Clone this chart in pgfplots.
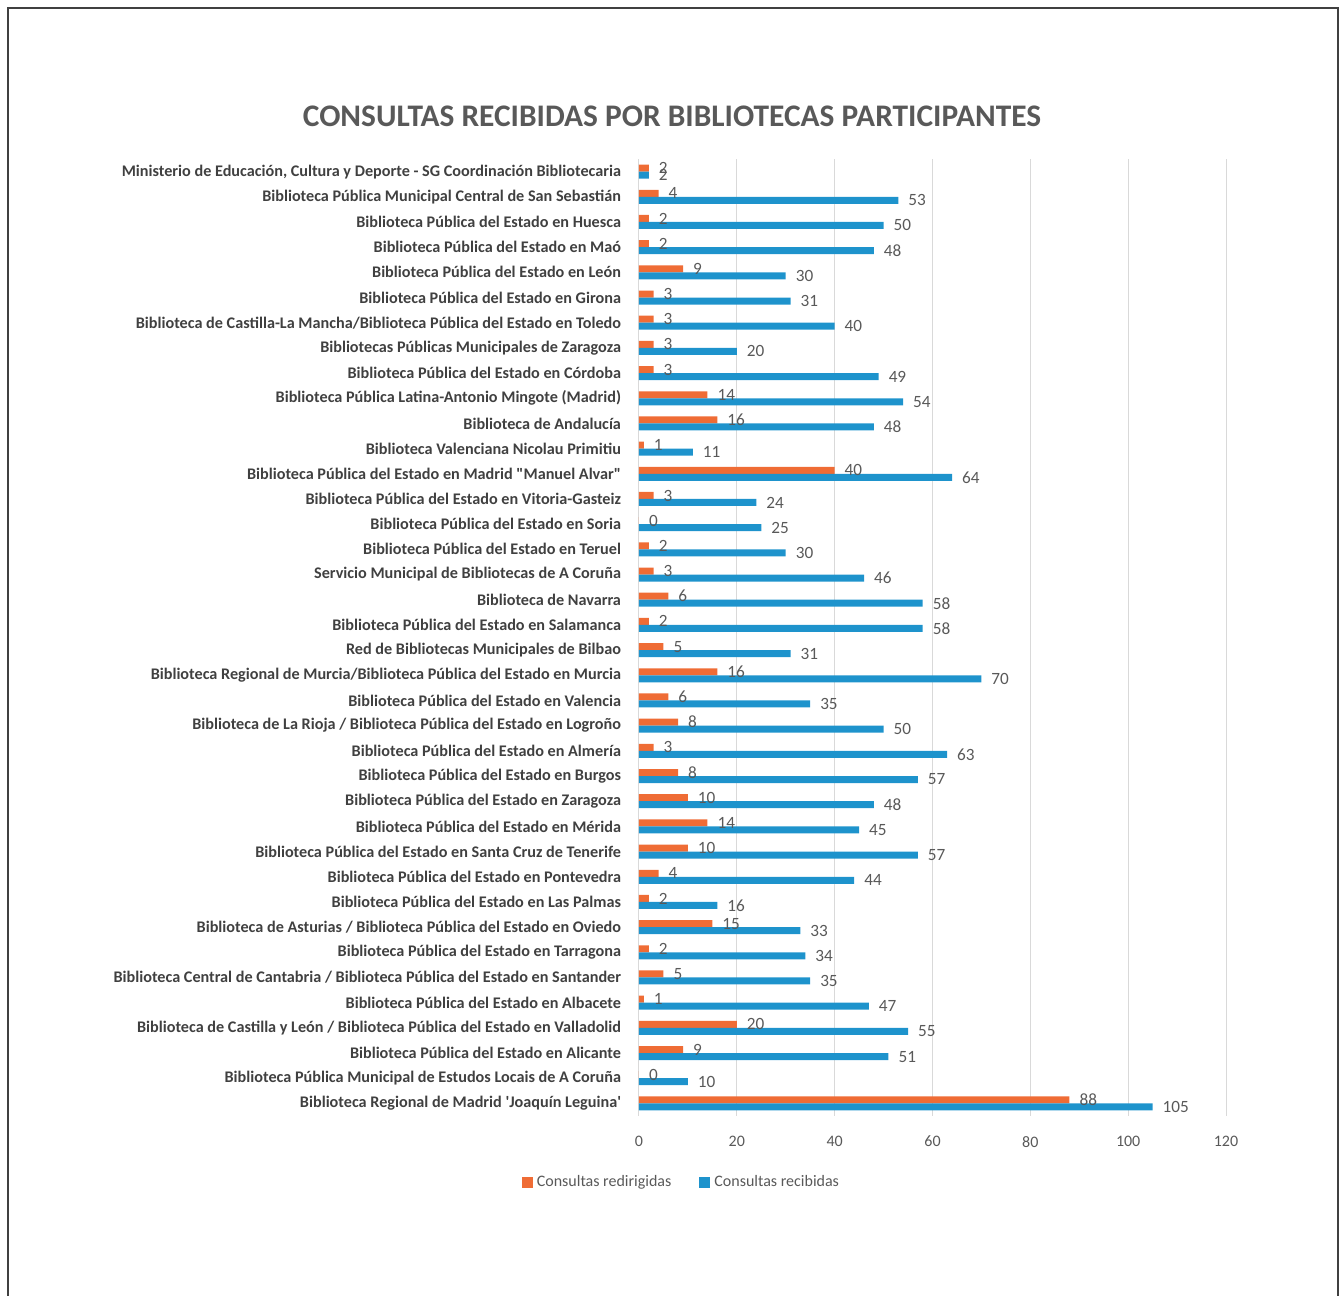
\documentclass[border=0pt]{standalone}
\usepackage{pgfplots}
\pgfplotsset{compat=1.18}
\usepackage{pgfplotstable}
\usepackage{fontspec}
\setmainfont{Carlito}

\definecolor{redir}{HTML}{EF6C35}
\definecolor{recib}{HTML}{1E93CC}
\definecolor{txt}{HTML}{595959}
\definecolor{cat}{HTML}{404040}
\definecolor{gridc}{HTML}{D9D9D9}

% idx: 0 = top row of the chart
\pgfplotstableread{
idx red blue
0  2   2
1  4   53
2  2   50
3  2   48
4  9   30
5  3   31
6  3   40
7  3   20
8  3   49
9  14  54
10 16  48
11 1   11
12 40  64
13 3   24
14 0   25
15 2   30
16 3   46
17 6   58
18 2   58
19 5   31
20 16  70
21 6   35
22 8   50
23 3   63
24 8   57
25 10  48
26 14  45
27 10  57
28 4   44
29 2   16
30 15  33
31 2   34
32 5   35
33 1   47
34 20  55
35 9   51
36 0   10
37 88  105
}\datos

\begin{document}
\begin{tikzpicture}
\path[use as bounding box] (0pt,0pt) rectangle (670pt,648pt);
\draw[black!75, line width=0.9pt] (4pt,0pt) -- (4pt,644pt) -- (669pt,644pt) -- (669pt,0pt);
\node[txt, font=\bfseries\fontsize{15.7}{18}\selectfont] at (336pt,590pt)
  {CONSULTAS RECIBIDAS POR BIBLIOTECAS PARTICIPANTES};

\begin{axis}[
  at={(319.5pt,90pt)}, anchor=south west,
  scale only axis, width=293.5pt, height=478.5pt,
  xbar, bar width=3.5pt,
  xmin=0, xmax=120, xtick={0,20,...,120},
  ymin=-0.5, ymax=37.5, y dir=reverse,
  ytick={0,...,37},
  yticklabels={
    {Ministerio de Educación, Cultura y Deporte - SG Coordinación Bibliotecaria},
    {Biblioteca Pública Municipal Central de San Sebastián},
    {Biblioteca Pública del Estado en Huesca},
    {Biblioteca Pública del Estado en Maó},
    {Biblioteca Pública del Estado en León},
    {Biblioteca Pública del Estado en Girona},
    {Biblioteca de Castilla-La Mancha/Biblioteca Pública del Estado en Toledo},
    {Bibliotecas Públicas Municipales de Zaragoza},
    {Biblioteca Pública del Estado en Córdoba},
    {Biblioteca Pública Latina-Antonio Mingote (Madrid)},
    {Biblioteca de Andalucía},
    {Biblioteca Valenciana Nicolau Primitiu},
    {Biblioteca Pública del Estado en Madrid \textquotedbl Manuel Alvar\textquotedbl},
    {Biblioteca Pública del Estado en Vitoria-Gasteiz },
    {Biblioteca Pública del Estado en Soria},
    {Biblioteca Pública del Estado en Teruel},
    {Servicio Municipal de Bibliotecas de A Coruña},
    {Biblioteca de Navarra},
    {Biblioteca Pública del Estado en Salamanca},
    {Red de Bibliotecas Municipales de Bilbao},
    {Biblioteca Regional de Murcia/Biblioteca Pública del Estado en Murcia},
    {Biblioteca Pública del Estado en Valencia},
    {Biblioteca de La Rioja / Biblioteca Pública del Estado en Logroño},
    {Biblioteca Pública del Estado en Almería},
    {Biblioteca Pública del Estado en Burgos},
    {Biblioteca Pública del Estado en Zaragoza },
    {Biblioteca Pública del Estado en Mérida},
    {Biblioteca Pública del Estado en Santa Cruz de Tenerife},
    {Biblioteca Pública del Estado en Pontevedra},
    {Biblioteca Pública del Estado en Las Palmas},
    {Biblioteca de Asturias / Biblioteca Pública del Estado en Oviedo },
    {Biblioteca Pública del Estado en Tarragona},
    {Biblioteca Central de Cantabria / Biblioteca Pública del Estado en Santander},
    {Biblioteca Pública del Estado en Albacete},
    {Biblioteca de Castilla y León / Biblioteca Pública del Estado en Valladolid},
    {Biblioteca Pública del Estado en Alicante},
    {Biblioteca Pública Municipal de Estudos Locais de A Coruña},
    {Biblioteca Regional de Madrid \textquotesingle Joaquín Leguina\textquotesingle}
  },
  xmajorgrids, grid style={gridc, line width=0.5pt},
  axis line style={draw=none}, major tick length=0pt,
  /pgf/number format/assume math mode=true,
  xticklabel style={txt, font=\fontsize{8}{9.6}\selectfont, yshift=-6.5pt},
  yticklabel style={cat, font=\bfseries\fontsize{8.1}{9.7}\selectfont, xshift=-5.5pt},
  point meta=x,
  nodes near coords,
  every node near coord/.append style={txt, anchor=west,
    font=\fontsize{8.6}{10}\selectfont, xshift=1.5pt},
  legend columns=2,
  legend style={at={(0.074,-0.069)}, anchor=center, draw=none, fill=none,
    font=\fontsize{8}{9.6}\selectfont, text=txt,
    /tikz/every even column/.append style={column sep=12pt}},
  legend image code/.code={\fill[#1] (0pt,-2.75pt) rectangle (5.5pt,2.75pt);},
]
\addplot[fill=redir, draw=none, bar shift=1.75pt]
  table[x=red, y=idx] {\datos};
\addlegendentry{Consultas redirigidas}
\addplot[fill=recib, draw=none, bar shift=-1.75pt]
  table[x=blue, y=idx] {\datos};
\addlegendentry{Consultas recibidas}
\end{axis}
\end{tikzpicture}
\end{document}
